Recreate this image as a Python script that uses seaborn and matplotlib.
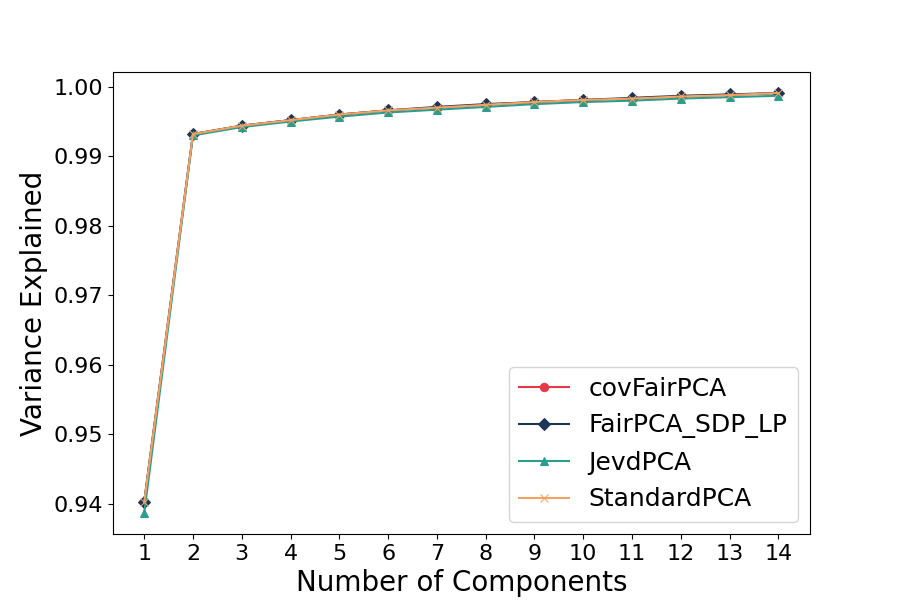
import numpy as np
import matplotlib
matplotlib.use("Agg")
import matplotlib.pyplot as plt
import seaborn as sns

# Datos
componentes = list(range(1, 15))
cov_fair_pca = [0.9403, 0.9932, 0.9944, 0.9952, 0.9960, 0.9966, 0.9970, 0.9974,
                0.9978, 0.9981, 0.9983, 0.9986, 0.9988, 0.9991]
fair_pca_sdp_lp = [0.9403, 0.9932, 0.9944, 0.9952, 0.9960, 0.9966, 0.9971, 0.9975,
                   0.9978, 0.9981, 0.9984, 0.9987, 0.9989, 0.9991]
jevd_pca = [0.9387, 0.9930, 0.9942, 0.9950, 0.9957, 0.9963, 0.9967, 0.9971,
            0.9975, 0.9978, 0.9980, 0.9983, 0.9985, 0.9987]
standard_pca = [0.9403, 0.9932, 0.9944, 0.9952, 0.9960, 0.9966, 0.9970, 0.9974,
                0.9978, 0.9981, 0.9983, 0.9986, 0.9988, 0.9991]

series = [
    ("covFairPCA", cov_fair_pca, "o", "#e63946"),
    ("FairPCA_SDP_LP", fair_pca_sdp_lp, "D", "#1d3557"),
    ("JevdPCA", jevd_pca, "^", "#2a9d8f"),
    ("StandardPCA", standard_pca, "x", "#f4a261"),
]

fig, ax = plt.subplots(figsize=(9, 6), dpi=100)
for nombre, valores, marcador, color in series:
    sns.lineplot(x=componentes, y=valores, marker=marcador, color=color,
                 label=nombre, markersize=6, markeredgecolor=color,
                 linewidth=1.5, ax=ax)

ax.set_xticks(componentes)
ax.set_xlabel("Number of Components", fontsize=20)
ax.set_ylabel("Variance Explained", fontsize=20)
ax.tick_params(axis="both", labelsize=16)
ax.legend(loc="lower right", fontsize=18)

fig.savefig("out.png", dpi=100)
